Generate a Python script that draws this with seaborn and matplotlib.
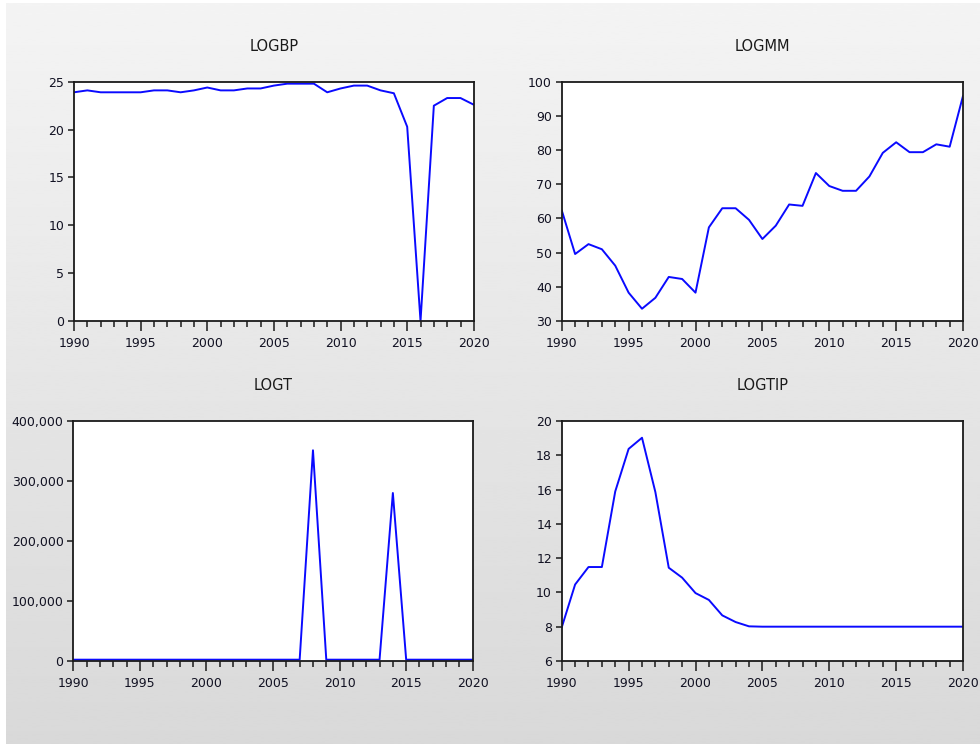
import matplotlib
matplotlib.use("Agg")
import matplotlib.pyplot as plt
import matplotlib.ticker as mticker
import numpy as np
import seaborn as sns

years = list(range(1990, 2021))

logbp = [23.9, 24.1, 23.9, 23.9, 23.9, 23.9, 24.1, 24.1, 23.9, 24.1,
         24.4, 24.1, 24.1, 24.3, 24.3, 24.6, 24.8, 24.8, 24.8, 23.9,
         24.3, 24.6, 24.6, 24.1, 23.8, 20.3, 0.0, 22.5, 23.3, 23.3, 22.6]

logmm = [62.4, 49.6, 52.5, 51.0, 46.2, 38.3, 33.6, 36.8, 42.9, 42.3,
         38.3, 57.4, 63.0, 63.0, 59.6, 54.0, 57.9, 64.1, 63.7, 73.3,
         69.5, 68.1, 68.1, 72.3, 79.2, 82.3, 79.4, 79.4, 81.7, 81.0, 95.9]

logt = [3000, 3000, 3000, 3000, 3000, 3000, 3000, 3000, 3000, 3000,
        3000, 3000, 3000, 3000, 3000, 3000, 3000, 3000, 351000, 3000,
        3000, 3000, 3000, 3000, 280000, 3000, 3000, 3000, 3000, 3000, 3000]

logtip = [7.96, 10.46, 11.48, 11.48, 15.89, 18.37, 19.02, 15.85, 11.44, 10.86,
          9.96, 9.56, 8.66, 8.27, 8.02, 8.0, 8.0, 8.0, 8.0, 8.0,
          8.0, 8.0, 8.0, 8.0, 8.0, 8.0, 8.0, 8.0, 8.0, 8.0, 8.0]

panels = [
    ("LOGBP", logbp, (0, 25), [0, 5, 10, 15, 20, 25], "{x:.0f}"),
    ("LOGMM", logmm, (30, 100), [30, 40, 50, 60, 70, 80, 90, 100], "{x:.0f}"),
    ("LOGT", logt, (0, 400000), [0, 100000, 200000, 300000, 400000], "{x:,.0f}"),
    ("LOGTIP", logtip, (6, 20), [6, 8, 10, 12, 14, 16, 18, 20], "{x:.0f}"),
]

positions = [
    [0.0755, 0.5685, 0.408, 0.3216],
    [0.5732, 0.5685, 0.4095, 0.3216],
    [0.0748, 0.1109, 0.4076, 0.3235],
    [0.5732, 0.1116, 0.4095, 0.3226],
]

sns.set_style("ticks")
plt.rcParams['font.family'] = ['DejaVu Sans']

fig = plt.figure(figsize=(9.8, 7.44), dpi=100, facecolor="white")

# grey gradient panel behind the charts
bg = fig.add_axes([6 / 980, 0, 1 - 6 / 980, 1 - 3 / 744], zorder=-10)
grad = np.linspace(0.955, 0.85, 256).reshape(-1, 1)
bg.imshow(grad, aspect="auto", cmap="gray", vmin=0, vmax=1, extent=[0, 1, 0, 1])
bg.axis("off")

for (title, values, ylim, yticks, fmt), pos in zip(panels, positions):
    ax = fig.add_axes(pos)
    ax.set_facecolor("white")
    sns.lineplot(x=years, y=values, ax=ax, color="#0a0aff", linewidth=1.4)
    ax.set_xlim(1990, 2020)
    ax.set_ylim(*ylim)
    ax.set_yticks(yticks)
    ax.yaxis.set_major_formatter(mticker.StrMethodFormatter(fmt))
    ax.set_xticks(range(1990, 2021, 5))
    ax.xaxis.set_minor_locator(mticker.MultipleLocator(1))
    ax.tick_params(axis="x", which="major", length=7.5, width=1.1, pad=4,
                   labelsize=9, color="#1a1a1a", labelcolor="#111122")
    ax.tick_params(axis="x", which="minor", length=4, width=1.1, color="#1a1a1a")
    ax.tick_params(axis="y", which="major", length=4, width=1.1, pad=3,
                   labelsize=9, color="#1a1a1a", labelcolor="#111122")
    for sp in ax.spines.values():
        sp.set_visible(True)
        sp.set_color("#1a1a1a")
        sp.set_linewidth(1.3)
    ax.set_xlabel("")
    ax.set_ylabel("")
    ax.set_title(title, fontsize=10.5, color="#1a1a1a", pad=22)

fig.savefig("out.png", dpi=100, facecolor="white")
